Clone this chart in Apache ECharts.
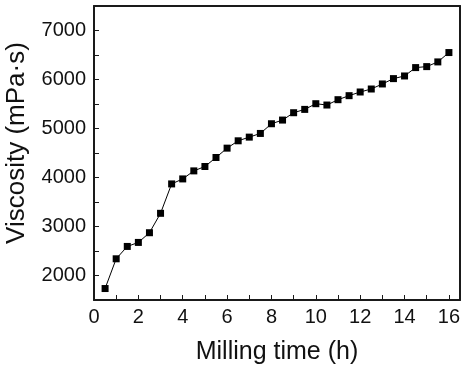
<!DOCTYPE html>
<html><head><meta charset="utf-8">
<script src="https://cdn.jsdelivr.net/npm/echarts@6/dist/echarts.min.js"></script>
<style>html,body{margin:0;padding:0;background:#fff}#c{width:466px;height:370px}</style>
</head><body><div id="c"></div>
<script>
const millingTime = [0.5,1,1.5,2,2.5,3,3.5,4,4.5,5,5.5,6,6.5,7,7.5,8,8.5,9,9.5,10,10.5,11,11.5,12,12.5,13,13.5,14,14.5,15,15.5,16];
const viscosity = [1734,2341,2593,2675,2873,3269,3869,3971,4135,4224,4408,4599,4749,4824,4899,5097,5172,5322,5390,5506,5479,5588,5670,5745,5806,5909,6018,6072,6243,6263,6359,6550];
const xTitle = 'Milling time (h)';
const yTitle = 'Viscosity (mPa·s)';

const font = 'Liberation Sans, Arial, sans-serif';
const chart = echarts.init(document.getElementById('c'), null, {renderer:'canvas'});
const lineCol = '#1a1a1a';
chart.setOption({
  animation:false,
  grid:{left:94, right:6, top:6, bottom:70, containLabel:false, outerBoundsMode:'none'},
  xAxis:[{
    type:'value', min:0, max:16.5, interval:1,
    axisLine:{show:true, onZero:false, lineStyle:{color:lineCol, width:2}},
    axisTick:{show:true, inside:true, length:5, lineStyle:{color:lineCol, width:1}},
    splitLine:{show:false},
    axisLabel:{color:'#111', fontSize:20, fontFamily:font, margin:7,
      formatter:v => (v % 2 === 0 && v <= 16) ? String(v) : ''},
    name:xTitle, nameLocation:'middle', nameGap:40,
    nameTextStyle:{color:'#111', fontSize:25, fontFamily:font}
  },{
    type:'value', position:'top', min:0, max:16.5, interval:1,
    axisLine:{show:true, onZero:false, lineStyle:{color:lineCol, width:2}},
    axisTick:{show:false}, axisLabel:{show:false}, splitLine:{show:false}
  }],
  yAxis:[{
    type:'value', min:1500, max:7500, interval:500,
    axisLine:{show:true, onZero:false, lineStyle:{color:lineCol, width:2}},
    axisTick:{show:true, inside:true, length:5, lineStyle:{color:lineCol, width:1}},
    splitLine:{show:false},
    axisLabel:{color:'#111', fontSize:20, fontFamily:font, margin:8,
      formatter:v => (v % 1000 === 0 && v >= 2000 && v <= 7000) ? String(v) : ''},
    name:yTitle, nameLocation:'middle', nameGap:64, nameRotate:90,
    nameTextStyle:{color:'#111', fontSize:26, fontFamily:font, padding:[0,0,0,20]}
  },{
    type:'value', position:'right', min:1500, max:7500, interval:500,
    axisLine:{show:true, onZero:false, lineStyle:{color:lineCol, width:2}},
    axisTick:{show:false}, axisLabel:{show:false}, splitLine:{show:false}
  }],
  series:[{
    type:'line',
    data: millingTime.map((t,i)=>[t, viscosity[i]]),
    symbol:'rect', symbolSize:7,
    itemStyle:{color:'#000'},
    lineStyle:{color:'#000', width:1}
  }]
});
</script></body></html>
